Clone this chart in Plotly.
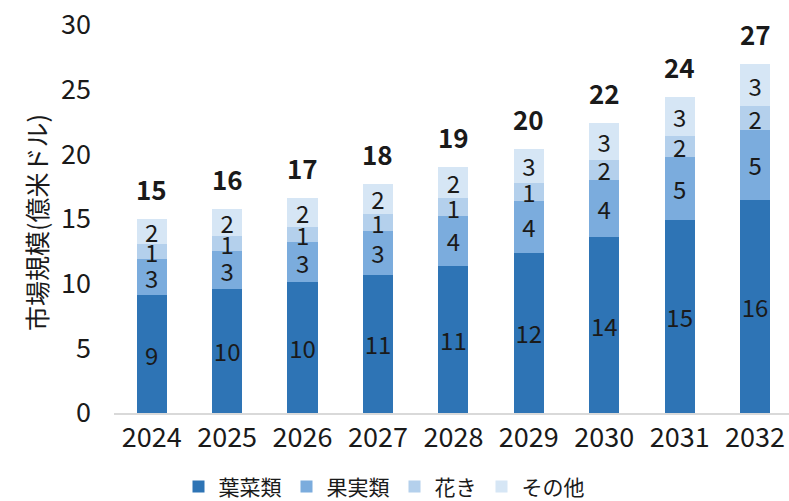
import plotly.graph_objects as go

years = ["2024", "2025", "2026", "2027", "2028", "2029", "2030", "2031", "2032"]
leafy = [9.1, 9.6, 10.1, 10.7, 11.4, 12.4, 13.6, 14.9, 16.5]
fruit = [2.8, 2.9, 3.1, 3.4, 3.8, 4.0, 4.4, 4.9, 5.4]
flower = [1.2, 1.2, 1.2, 1.3, 1.4, 1.4, 1.6, 1.6, 1.8]
other = [1.9, 2.1, 2.2, 2.3, 2.4, 2.6, 2.8, 3.0, 3.3]
series_names = ["葉菜類", "果実類", "花き", "その他"]
colors = ["#2E74B5", "#7BACDD", "#B4D0EC", "#D6E6F5"]
y_title = "市場規模(億米ドル)"

totals = [round(a + b + c + d, 2) for a, b, c, d in zip(leafy, fruit, flower, other)]

FONT = "Noto Sans CJK JP"
TXT = "#1A1A1A"
fig = go.Figure()
for name, vals, col in zip(series_names, [leafy, fruit, flower, other], colors):
    fig.add_trace(go.Bar(
        x=years, y=vals, name=name, marker=dict(color=col, line=dict(width=0)),
        text=[f"{round(v)}" for v in vals], textposition="inside",
        insidetextanchor="middle", textangle=0, constraintext="none",
        textfont=dict(family=FONT, size=24, color=TXT),
        hoverinfo="skip",
    ))

for i, t in enumerate(totals):
    fig.add_annotation(
        x=i, y=t, xref="x", yref="y", text=f"<b>{round(t)}</b>", showarrow=False,
        yanchor="bottom", yshift=10, font=dict(family=FONT, size=26, color=TXT),
    )

fig.add_annotation(
    x=-0.1156, y=0.492, xref="paper", yref="paper", text=y_title, showarrow=False,
    textangle=-90, xanchor="center", yanchor="middle",
    font=dict(family=FONT, size=25, color=TXT),
)

fig.update_layout(
    barmode="stack", bargap=0.6,
    width=789, height=501,
    margin=dict(l=114, r=0, t=25, b=88),
    paper_bgcolor="white", plot_bgcolor="white",
    font=dict(family=FONT, color=TXT),
    showlegend=True,
    legend=dict(orientation="h", x=0.4, xanchor="center", yref="container", y=0.028,
                yanchor="middle",
                font=dict(family=FONT, size=21, color=TXT), traceorder="normal",
                itemwidth=30, tracegroupgap=0),
)
fig.update_xaxes(
    type="category", range=[-0.5, 8.45], showline=True, linecolor="#D9D9D9", linewidth=1.5,
    ticks="", tickfont=dict(family=FONT, size=27, color=TXT), showgrid=False, automargin=False,
)
fig.update_yaxes(
    range=[0, 30], dtick=5, showgrid=False, zeroline=False, showline=False, ticks="",
    tickfont=dict(family=FONT, size=27, color=TXT), ticklabelstandoff=22, automargin=False,
)

fig.write_html("out.html", post_script="document.body.style.margin='0px';",
               config={"displayModeBar": False})
